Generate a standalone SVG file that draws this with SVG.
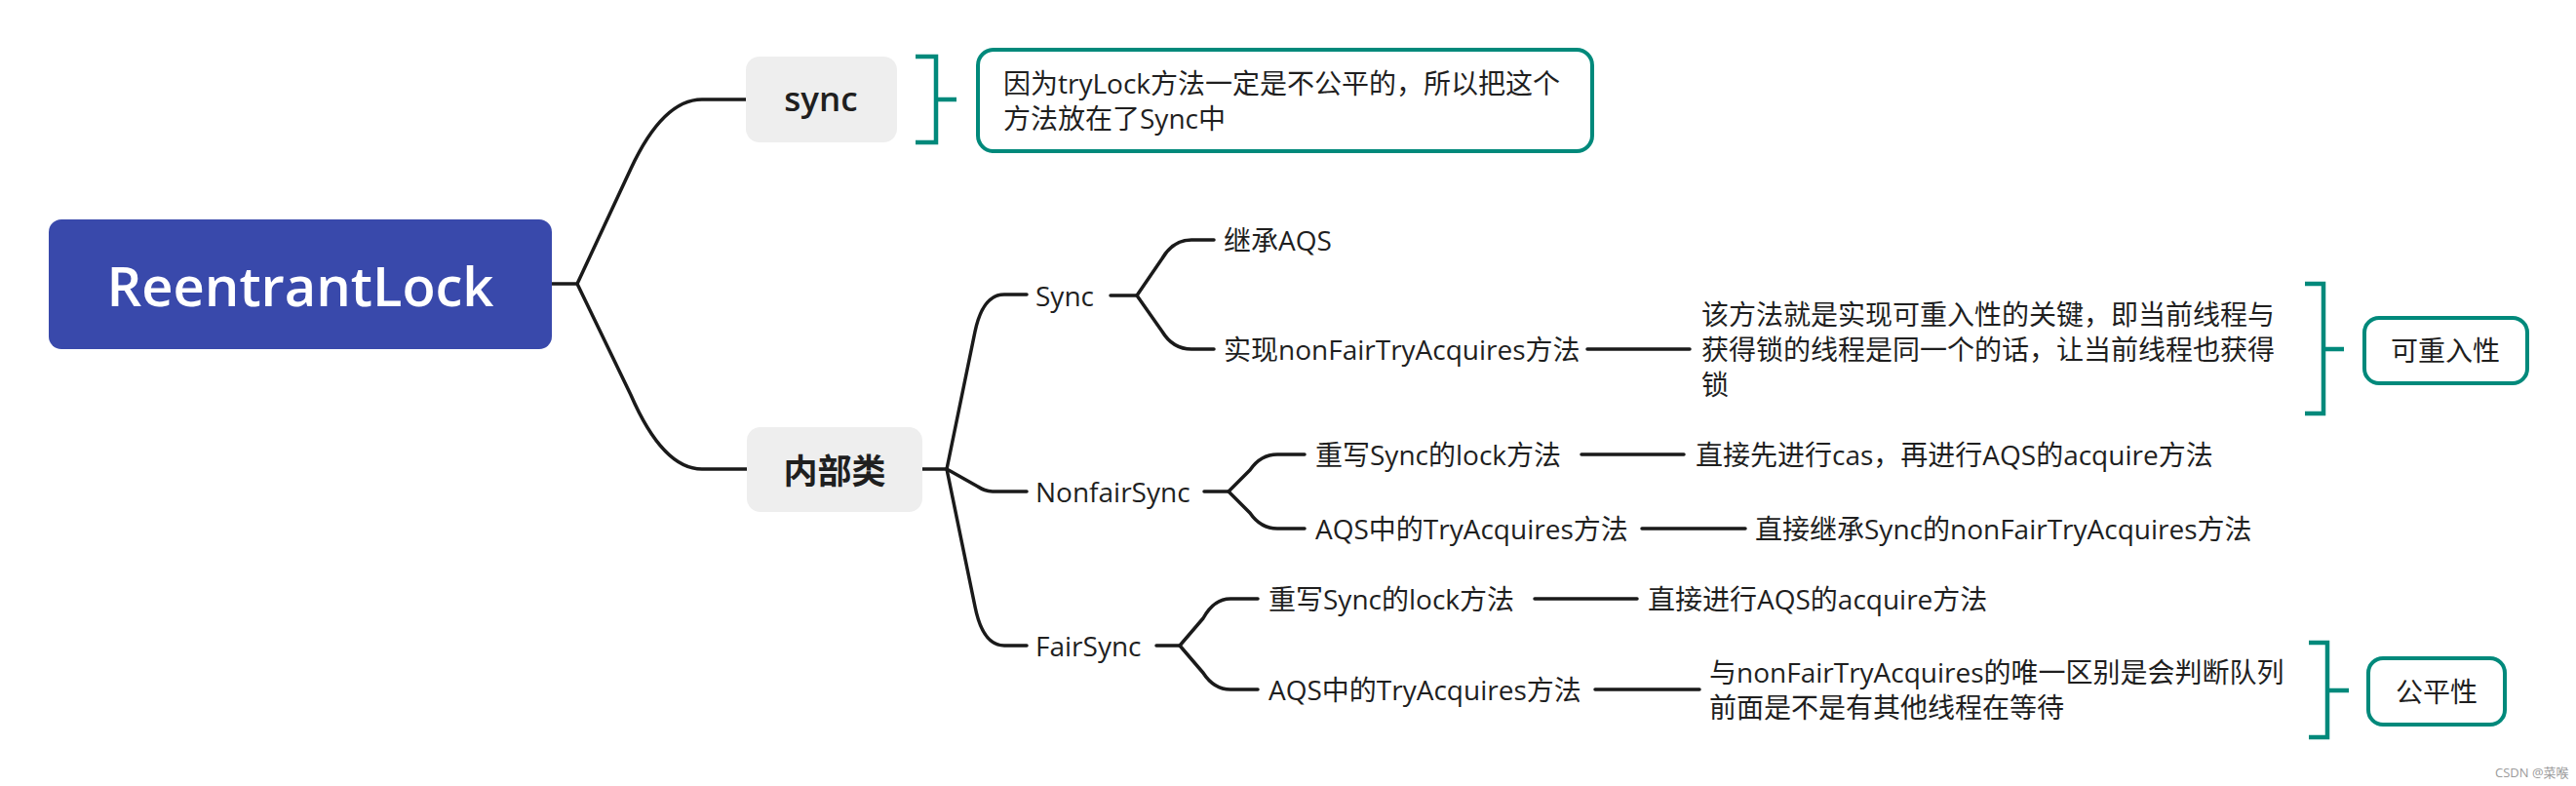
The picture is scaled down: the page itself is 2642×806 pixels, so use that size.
<svg xmlns="http://www.w3.org/2000/svg" width="2642" height="806" viewBox="0 0 2642 806">
<style>
  text { font-family: "Open Sans", "Noto Sans CJK SC", sans-serif; fill: #1f1f1f; dominant-baseline: central; }
  .t { font-size: 28px; }
  .conn path, .conn line { fill: none; stroke: #1a1a1a; stroke-width: 3.5; stroke-linecap: round; stroke-linejoin: round; }
  .brk { fill: none; stroke: #00897B; stroke-width: 4.5; stroke-linecap: butt; }
  .sumbox { fill: #ffffff; stroke: #00897B; stroke-width: 4; }
  .sub { fill: #EEEEEE; }
</style>
<rect width="2642" height="806" fill="#ffffff"/>

<g id="connectors" class="conn">
  <path d="M566,291 L592,291 L647,173 Q680,102 720,102 L765,102"/>
  <path d="M592,291 L647,405 Q680,481 720,481 L766,481"/>
  <path d="M946,481 L971,481 L1000,340 Q1008,302 1030,302 L1053,302"/>
  <path d="M971,481 L1003,499 Q1010,504 1020,504 L1053,504"/>
  <path d="M971,481 L1000,622 Q1008,662 1030,662 L1053,662"/>
  <path d="M1139,303 L1166,303 L1192,265 Q1203,246 1222,246 L1245,246"/>
  <path d="M1166,303 L1192,340 Q1203,358 1222,358 L1245,358"/>
  <path d="M1235,504 L1260,504 L1282,482 Q1293,466 1310,466 L1338,466"/>
  <path d="M1260,504 L1282,526 Q1293,542 1310,542 L1338,542"/>
  <path d="M1186,662 L1210,662 L1234,634 Q1245,614 1262,614 L1290,614"/>
  <path d="M1210,662 L1234,690 Q1245,707 1262,707 L1290,707"/>
  <line x1="1628" y1="358" x2="1733" y2="358"/>
  <line x1="1622" y1="466" x2="1727" y2="466"/>
  <line x1="1684" y1="542" x2="1790" y2="542"/>
  <line x1="1574" y1="614" x2="1679" y2="614"/>
  <line x1="1636" y1="707" x2="1743" y2="707"/>
</g>

<g id="root">
  <rect x="50" y="225" width="516" height="133" rx="13" fill="#3949AB"/>
  <text x="308" y="292" text-anchor="middle" style="font-size:56px;font-weight:600;fill:#ffffff">ReentrantLock</text>
</g>

<g id="node-sync">
  <rect class="sub" x="765" y="58" width="155" height="88" rx="14"/>
  <text x="842" y="100" text-anchor="middle" style="font-size:35px;font-weight:600">sync</text>
</g>

<g id="bracket-sync">
  <path class="brk" d="M939,58 L960,58 L960,146 L939,146 M960,102 L981,102"/>
</g>

<g id="summary-sync">
  <rect class="sumbox" x="1003" y="51" width="630" height="104" rx="16"/>
  <text class="t" x="1029" y="85">因为tryLock方法一定是不公平的，所以把这个</text>
  <text class="t" x="1029" y="121">方法放在了Sync中</text>
</g>

<g id="node-inner">
  <rect class="sub" x="766" y="438" width="180" height="87" rx="14"/>
  <text x="856" y="482" text-anchor="middle" style="font-size:35px;font-weight:700">内部类</text>
</g>

<g id="node-Sync"><text class="t" x="1062" y="303">Sync</text></g>
<g id="node-inherit"><text class="t" x="1255" y="246">继承AQS</text></g>
<g id="node-impl"><text class="t" x="1255" y="358">实现nonFairTryAcquires方法</text></g>
<g id="node-impl-desc">
  <text class="t" x="1745" y="322">该方法就是实现可重入性的关键，即当前线程与</text>
  <text class="t" x="1745" y="358">获得锁的线程是同一个的话，让当前线程也获得</text>
  <text class="t" x="1745" y="394">锁</text>
</g>
<g id="bracket-reentrant">
  <path class="brk" d="M2364,291 L2383,291 L2383,424 L2364,424 M2383,358 L2404,358"/>
</g>
<g id="summary-reentrant">
  <rect class="sumbox" x="2425" y="326" width="167" height="67" rx="15"/>
  <text class="t" x="2508" y="359" text-anchor="middle">可重入性</text>
</g>

<g id="node-NonfairSync"><text class="t" x="1062" y="504">NonfairSync</text></g>
<g id="node-nf-lock"><text class="t" x="1349" y="466">重写Sync的lock方法</text></g>
<g id="node-nf-lock-desc"><text class="t" x="1739" y="466">直接先进行cas，再进行AQS的acquire方法</text></g>
<g id="node-nf-try"><text class="t" x="1349" y="542">AQS中的TryAcquires方法</text></g>
<g id="node-nf-try-desc"><text class="t" x="1800" y="542">直接继承Sync的nonFairTryAcquires方法</text></g>

<g id="node-FairSync"><text class="t" x="1062" y="662">FairSync</text></g>
<g id="node-f-lock"><text class="t" x="1301" y="614">重写Sync的lock方法</text></g>
<g id="node-f-lock-desc"><text class="t" x="1690" y="614">直接进行AQS的acquire方法</text></g>
<g id="node-f-try"><text class="t" x="1301" y="707">AQS中的TryAcquires方法</text></g>
<g id="node-f-try-desc">
  <text class="t" x="1753" y="689">与nonFairTryAcquires的唯一区别是会判断队列</text>
  <text class="t" x="1753" y="725">前面是不是有其他线程在等待</text>
</g>
<g id="bracket-fair">
  <path class="brk" d="M2368,659 L2387,659 L2387,756 L2368,756 M2387,708 L2409,708"/>
</g>
<g id="summary-fair">
  <rect class="sumbox" x="2429" y="675" width="140" height="68" rx="15"/>
  <text class="t" x="2499" y="709" text-anchor="middle">公平性</text>
</g>

<text x="2559" y="792" style="font-size:13px;fill:#9a9a9a">CSDN @菜喉</text>
</svg>
